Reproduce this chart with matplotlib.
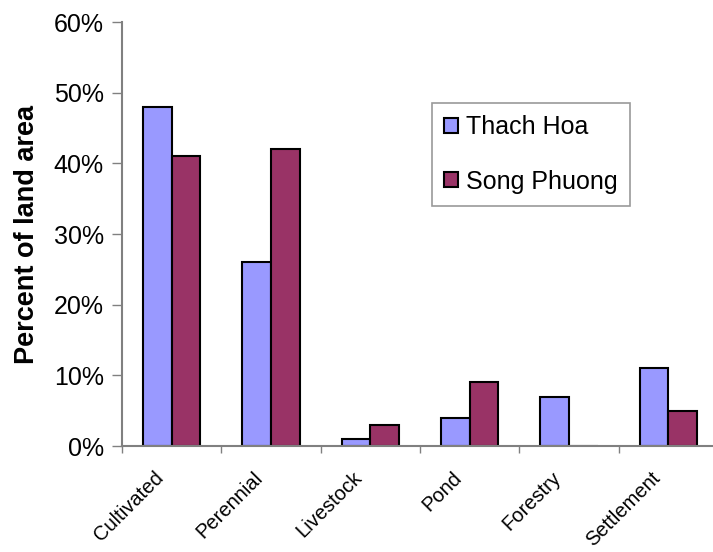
import matplotlib
matplotlib.use("Agg")
import matplotlib.pyplot as plt
import matplotlib.transforms as mtransforms
import numpy as np
from matplotlib.ticker import FuncFormatter, FixedLocator

plt.rcParams['font.family'] = ['Liberation Sans', 'DejaVu Sans']

categories = ["Cultivated", "Perennial", "Livestock", "Pond", "Forestry", "Settlement"]
thach_hoa = [48, 26, 1, 4, 7, 11]
song_phuong = [41, 42, 3, 9, 0, 5]
series_names = ["Thach Hoa", "Song Phuong"]
y_ticks = [0, 10, 20, 30, 40, 50, 60]

blue = "#9999FF"
purple = "#993366"
axis_gray = "#808080"

fig = plt.figure(figsize=(7.13, 5.52), dpi=100)
ax = fig.add_axes([122 / 713, 106 / 552, 596 / 713, 424 / 552])

x = np.arange(len(categories))
w = 0.29
ax.bar(x - w / 2, thach_hoa, w, color=blue, edgecolor="black", linewidth=1.5,
       label=series_names[0], zorder=2)
ax.bar(x + w / 2, song_phuong, w, color=purple, edgecolor="black", linewidth=1.5,
       label=series_names[1], zorder=2)

ax.set_xlim(-0.5, len(categories) - 0.5)
ax.set_ylim(0, 60)
ax.set_yticks(y_ticks)
ax.yaxis.set_major_formatter(FuncFormatter(lambda v, p: f"{v:.0f}%"))
ax.tick_params(axis="y", labelsize=18, length=7, width=1.0, color=axis_gray, pad=6)

ax.set_xticks(x)
ax.set_xticklabels(categories, rotation=45, ha="right", rotation_mode="anchor", fontsize=14.5)
ax.tick_params(axis="x", which="major", length=0, pad=16)
ax.xaxis.set_minor_locator(FixedLocator(np.arange(-0.5, len(categories), 1.0)))
ax.tick_params(axis="x", which="minor", length=5, width=1.0, color=axis_gray)
shift = mtransforms.ScaledTranslation(-18 / 100, 0, fig.dpi_scale_trans)
for lbl in ax.get_xticklabels():
    lbl.set_transform(lbl.get_transform() + shift)

for s in ["top", "right"]:
    ax.spines[s].set_visible(False)
for s in ["left", "bottom"]:
    ax.spines[s].set_color(axis_gray)
    ax.spines[s].set_linewidth(1.5)
    ax.spines[s].set_zorder(3)

ax.set_ylabel("Percent of land area", fontsize=19.5, fontweight="bold", labelpad=10)

leg = ax.legend(loc="upper left", bbox_to_anchor=(432 / 713, 1 - 103 / 552),
                bbox_transform=fig.transFigure, fontsize=18, frameon=True,
                fancybox=False, edgecolor=axis_gray, borderaxespad=0,
                handlelength=0.55, handleheight=0.55, handletextpad=0.35,
                labelspacing=1.22, borderpad=0.48)
leg.get_frame().set_linewidth(1.2)

fig.savefig("out.png", dpi=100)
